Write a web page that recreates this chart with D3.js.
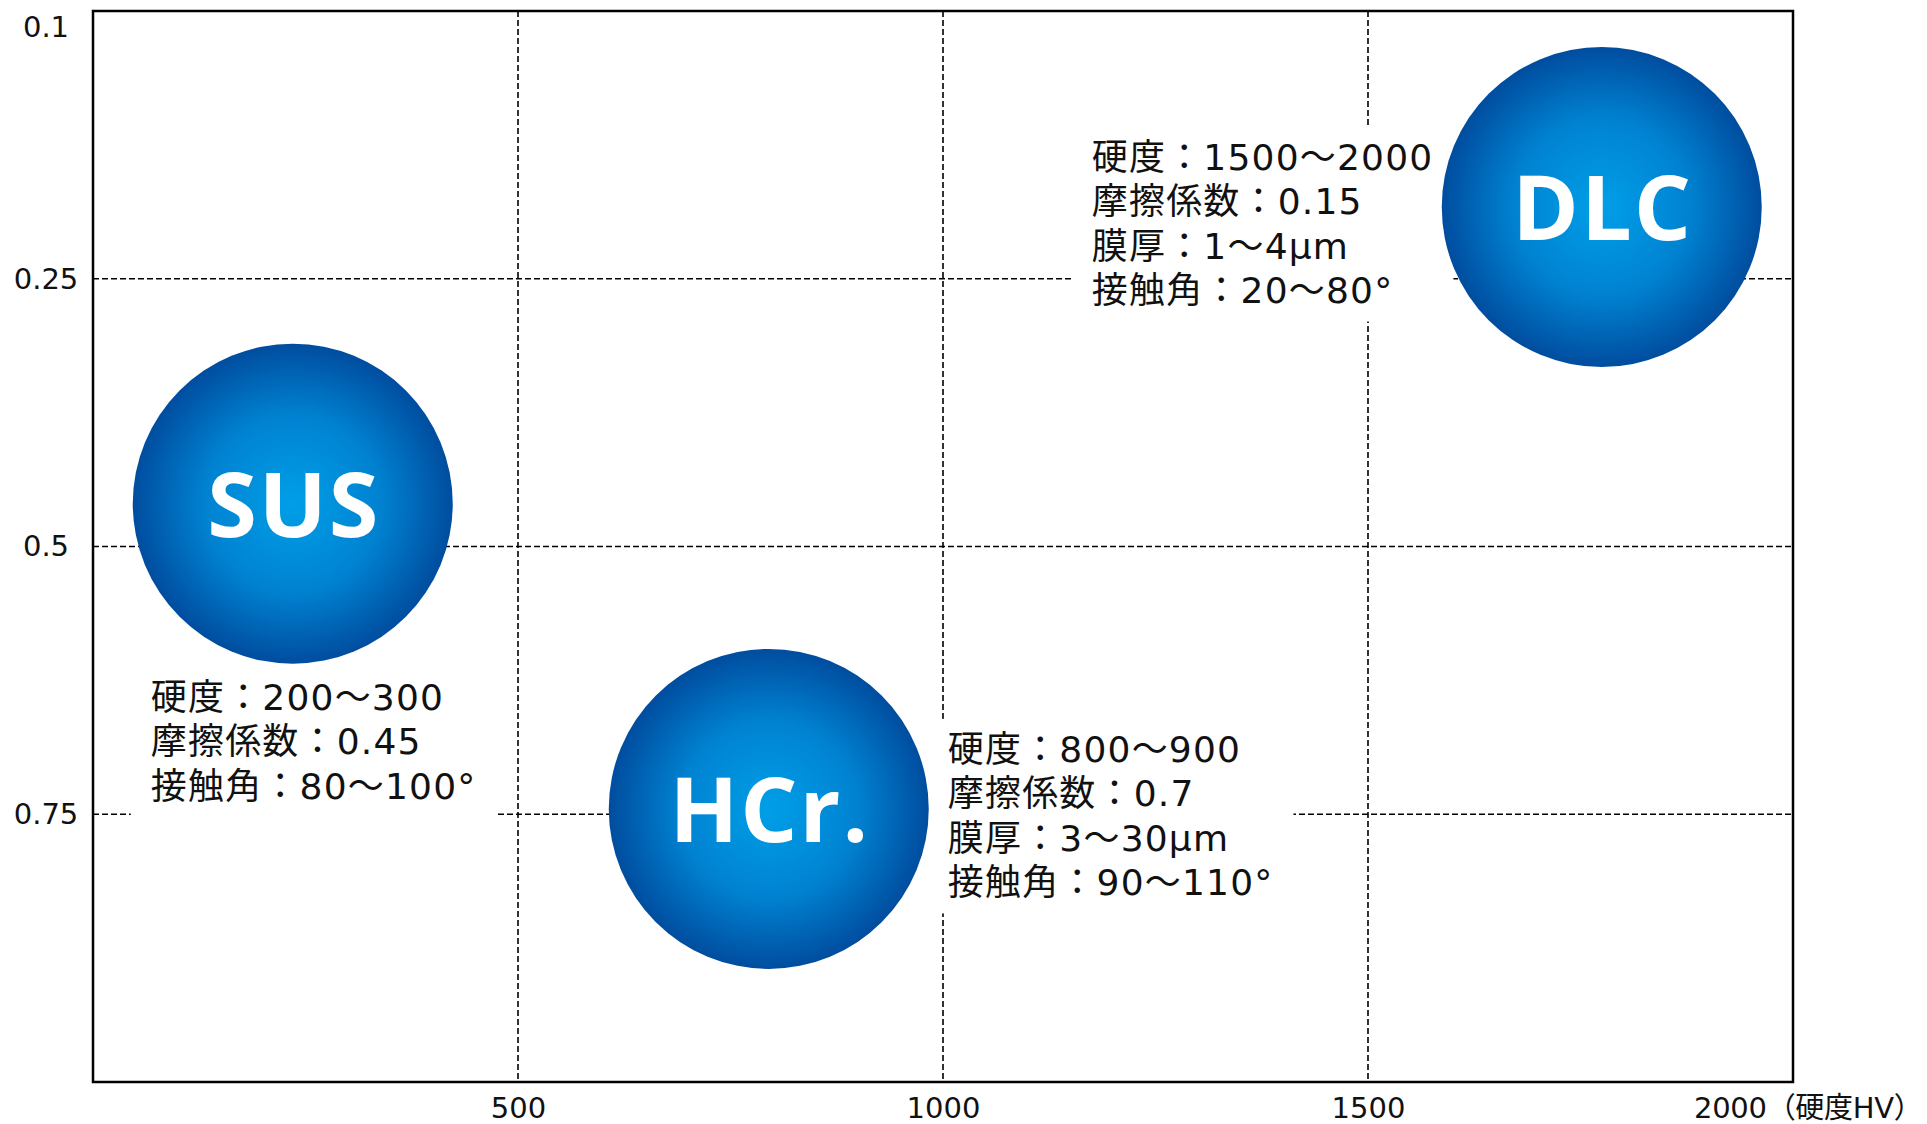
<!DOCTYPE html>
<html>
<head>
<meta charset="utf-8">
<script src="https://cdnjs.cloudflare.com/ajax/libs/d3/7.8.5/d3.min.js"></script>
<style>
  body { margin: 0; background: #fff; }
  svg { display: block; }
  .info text { font-family: "DejaVu Sans", "Noto Sans CJK JP", sans-serif; font-size: 36px; letter-spacing: 1.2px; fill: #111; }
  .axis text { font-family: "DejaVu Sans", "Noto Sans CJK JP", sans-serif; font-size: 29px; fill: #111; }
</style>
</head>
<body>
<svg id="chart"></svg>
<script>
var materials = ["SUS", "HCr.", "DLC"];
var hardness = [235, 795, 1775];       // x: 硬度HV
var friction = [0.46, 0.745, 0.183];   // y
var notes = [
  ["硬度：200～300", "摩擦係数：0.45", "接触角：80～100°"],
  ["硬度：800～900", "摩擦係数：0.7", "膜厚：3～30μm", "接触角：90～110°"],
  ["硬度：1500～2000", "摩擦係数：0.15", "膜厚：1～4μm", "接触角：20～80°"]
];
var xTicks = [500, 1000, 1500, 2000];
var xTickLabels = ["500", "1000", "1500", "2000（硬度HV）"];
var yTicks = [0, 0.25, 0.5, 0.75];
var yTickLabels = ["0.1", "0.25", "0.5", "0.75"];

// where each text block sits relative to its bubble (px)
var noteOffset = [[-142, 206], [179, -47], [-510, -37]];

var W = 1927, H = 1124;
var margin = {top: 11, right: 134, bottom: 42, left: 93};
var width = W - margin.left - margin.right,
    height = H - margin.top - margin.bottom;
var R = 160, lineH = 44.5;

var x = d3.scaleLinear().domain([0, 2000]).range([0, width]);
var y = d3.scaleLinear().domain([0, 1]).range([0, height]);

var svg = d3.select("#chart").attr("width", W).attr("height", H);

var grad = svg.append("defs").append("radialGradient").attr("id", "ball");
grad.append("stop").attr("offset", "0%").attr("stop-color", "#009fe8");
grad.append("stop").attr("offset", "55%").attr("stop-color", "#0082d1");
grad.append("stop").attr("offset", "100%").attr("stop-color", "#004d9f");

var g = svg.append("g").attr("transform", "translate(" + margin.left + "," + margin.top + ")");

/*grid*/
g.selectAll(".vgrid").data(xTicks.slice(0, 3)).enter().append("line")
  .attr("x1", d => x(d)).attr("x2", d => x(d)).attr("y1", 0).attr("y2", height)
  .attr("stroke", "#000").attr("stroke-width", 1.6).attr("stroke-dasharray", "6,3");
g.selectAll(".hgrid").data(yTicks.slice(1)).enter().append("line")
  .attr("y1", d => y(d)).attr("y2", d => y(d)).attr("x1", 0).attr("x2", width)
  .attr("stroke", "#000").attr("stroke-width", 1.6).attr("stroke-dasharray", "6,3");

/*frame*/
g.append("rect").attr("width", width).attr("height", height)
  .attr("fill", "none").attr("stroke", "#000").attr("stroke-width", 2.5);

/*axes*/
var xAxis = g.append("g").attr("class", "axis")
  .attr("transform", "translate(0," + height + ")")
  .call(d3.axisBottom(x).tickValues(xTicks).tickSize(0).tickFormat((d, i) => xTickLabels[i]));
xAxis.select(".domain").remove();
xAxis.selectAll("text").attr("y", 36).attr("dy", 0);
xAxis.selectAll("text").filter((d, i) => i === xTicks.length - 1)
  .attr("text-anchor", "end").attr("x", W - margin.left - width - 5).attr("letter-spacing", -0.3);

var yAxis = g.append("g").attr("class", "axis")
  .call(d3.axisLeft(y).tickValues(yTicks).tickSize(0).tickFormat((d, i) => yTickLabels[i]));
yAxis.select(".domain").remove();
yAxis.selectAll("text").attr("text-anchor", "middle").attr("x", -47);
yAxis.selectAll("text").filter((d, i) => i === 0).attr("dy", "0.88em");

/*info boxes*/
var info = g.selectAll(".info").data(materials).enter().append("g").attr("class", "info")
  .attr("transform", (d, i) => "translate(" + (x(hardness[i]) + noteOffset[i][0]) + "," +
                                               (y(friction[i]) + noteOffset[i][1]) + ")");
var bg = info.append("rect").attr("fill", "#fff");
info.append("text").each(function (d, i) {
  d3.select(this).selectAll("tspan").data(notes[i]).enter().append("tspan")
    .attr("x", 0).attr("y", (t, j) => j * lineH).text(t => t);
});
bg.each(function () {
  var b = this.parentNode.querySelector("text").getBBox();
  d3.select(this).attr("x", b.x - 20).attr("y", b.y - 10)
    .attr("width", b.width + 40).attr("height", b.height + 20);
});

/*bubbles*/
var ball = g.selectAll(".ball").data(materials).enter().append("g")
  .attr("transform", (d, i) => "translate(" + x(hardness[i]) + "," + y(friction[i]) + ")");
ball.append("circle").attr("r", R).attr("fill", "url(#ball)");
ball.append("text").attr("text-anchor", "middle").attr("x", 1).attr("y", 33)
  .attr("fill", "#fff").attr("font-family", "'Open Sans', sans-serif")
  .attr("font-weight", "bold").attr("font-size", 90).attr("letter-spacing", 2).text(d => d);
</script>
</body>
</html>
